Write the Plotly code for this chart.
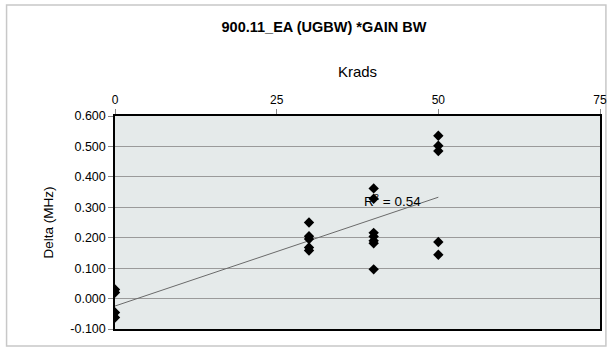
import numpy as np
import plotly.graph_objects as go

# Data
krads = [0, 0, 0, 0,
         30, 30, 30, 30, 30,
         40, 40, 40, 40, 40, 40, 40,
         50, 50, 50, 50, 50]
delta = [0.030, 0.020, -0.046, -0.062,
         0.250, 0.205, 0.196, 0.168, 0.158,
         0.362, 0.328, 0.216, 0.204, 0.190, 0.182, 0.096,
         0.535, 0.502, 0.485, 0.186, 0.144]
x_ticks = [0, 25, 50, 75]
y_ticks = [-0.1, 0.0, 0.1, 0.2, 0.3, 0.4, 0.5, 0.6]
title_text = "900.11_EA (UGBW) *GAIN BW"
r2_label = "R<sup>2</sup> = 0.54"

xa = np.array(krads, dtype=float)
ya = np.array(delta, dtype=float)
slope, intercept = np.polyfit(xa, ya, 1)
fit_x = [xa.min(), xa.max()]
fit_y = [intercept + slope * v for v in fit_x]

FONT = "Liberation Sans, Arial, sans-serif"

fig = go.Figure()
fig.add_trace(go.Scatter(x=fit_x, y=fit_y, mode="lines",
                         line=dict(color="#6a6a6a", width=1), hoverinfo="skip"))
fig.add_trace(go.Scatter(x=[42.9], y=[0.316], mode="text", text=[r2_label],
                         textfont=dict(family=FONT, size=13.5, color="#000"),
                         textposition="middle center", hoverinfo="skip"))
fig.add_trace(go.Scatter(x=krads, y=delta, mode="markers",
                         marker=dict(symbol="diamond", size=8, color="#000")))

fig.update_layout(
    width=615, height=348,
    margin=dict(l=115, r=8, t=116, b=19),
    paper_bgcolor="white", plot_bgcolor="#e5eaea",
    showlegend=False,
    font=dict(family=FONT, color="#000"),
    title=dict(text="<b>" + title_text + "</b>", x=324 / 615, xanchor="center",
               xref="container", y=1 - 27 / 348, yanchor="middle",
               font=dict(size=14.5, family=FONT)),
    shapes=[dict(type="rect", xref="paper", yref="paper", layer="below",
                 x0=-110 / 492, x1=1 + 6 / 492, y0=-17 / 213, y1=1 + 111 / 213,
                 line=dict(color="#c8c8c8", width=1.5), fillcolor="rgba(0,0,0,0)")],
)
fig.update_xaxes(range=[0, 75], side="top", tickvals=x_ticks,
                 ticktext=[str(v) for v in x_ticks],
                 ticks="outside", ticklen=5, tickcolor="#888",
                 showgrid=False, zeroline=False,
                 showline=True, linecolor="#000", linewidth=1.5, mirror=True,
                 tickfont=dict(size=12, family=FONT),
                 title=dict(text="Krads", font=dict(size=15, family=FONT), standoff=12))
fig.update_yaxes(range=[-0.1, 0.6], tickvals=y_ticks,
                 ticktext=[f"{v:.3f}" for v in y_ticks],
                 ticks="outside", ticklen=5, tickcolor="#888",
                 showgrid=True, gridcolor="#9a9a9a", gridwidth=1, zeroline=False,
                 showline=True, linecolor="#000", linewidth=1.5, mirror=True,
                 tickfont=dict(size=12.5, family=FONT),
                 title=dict(text="Delta (MHz)", font=dict(size=13.5, family=FONT), standoff=14))

fig.write_html("out.html", config={"displayModeBar": False},
               post_script="document.body.style.margin='0';document.body.style.padding='0';")
